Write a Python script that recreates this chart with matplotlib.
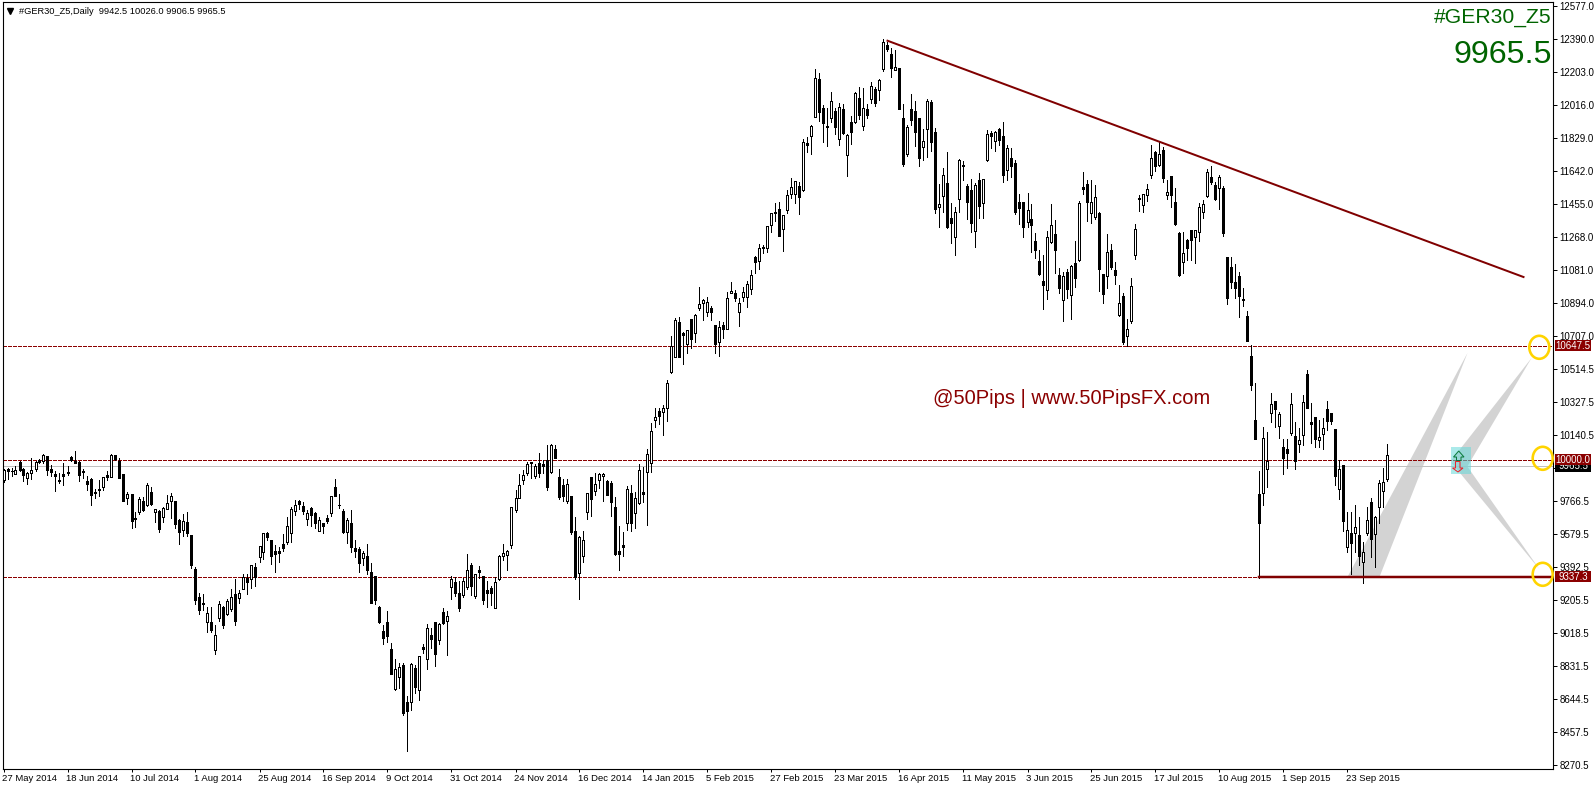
import matplotlib
matplotlib.use("Agg")
import matplotlib.pyplot as plt
from matplotlib.patches import Ellipse, Polygon, Rectangle
from matplotlib.transforms import ScaledTranslation

plt.rcParams['font.family'] = ['Liberation Sans', 'DejaVu Sans']

# daily candles
highs = [9949,9957,9957,9968,9993,9953,9934,10012,9997,10006,
10036,10023,9970,9938,9925,9982,9968,10021,10052,9993,
9949,9912,9898,9834,9885,9906,9936,10033,10027,10014,
9919,9817,9807,9707,9792,9789,9870,9845,9720,9717,
9732,9800,9811,9768,9664,9692,9703,9577,9391,9246,
9240,9164,9164,9062,9198,9172,9213,9266,9325,9263,
9352,9353,9404,9414,9510,9588,9594,9544,9516,9509,
9580,9679,9732,9772,9773,9762,9717,9732,9703,9679,
9645,9690,9796,9891,9807,9720,9669,9717,9544,9505,
9482,9524,9414,9342,9170,9064,9141,8960,8869,8850,
8846,8661,8850,8835,8888,8956,9070,9045,9083,9077,
9159,9142,9340,9338,9316,9329,9467,9414,9355,9399,
9342,9316,9285,9335,9459,9522,9489,9732,9830,9919,
9942,9991,9989,9978,10040,9998,10085,10091,10085,9949,
9892,9892,9798,9677,9567,9595,9811,9904,9928,9928,
9927,9887,9879,9788,9626,9592,9853,9857,9819,9976,
9961,10063,10208,10294,10294,10311,10452,10704,10804,10810,
10727,10738,10801,10827,10980,10912,10924,10872,10767,10791,
10782,10952,11009,10967,10918,10980,11018,11079,11158,11224,
11222,11328,11404,11457,11463,11391,11533,11599,11582,11576,
11822,11832,11900,12220,12197,12015,11996,12089,11996,12025,
12021,11849,11953,12087,12117,12110,12021,12146,12119,12161,
12390,12371,12337,12327,12225,12021,11902,12078,12038,11941,
11879,12049,12044,11885,11567,11658,11748,11459,11438,11707,
11699,11565,11593,11571,11627,11597,11873,11867,11870,11883,
11917,11786,11771,11701,11510,11463,11514,11451,11287,11192,
11164,11298,11453,11362,11088,11069,11086,11107,11243,11468,
11635,11589,11591,11561,11406,11056,11281,11224,11122,10992,
10946,10799,11031,11338,11503,11512,11567,11786,11752,11807,
11775,11589,11612,11544,11292,11294,11252,11305,11305,11457,
11476,11650,11669,11580,11618,11556,11153,11153,11111,11069,
10975,10846,10653,10435,9936,10186,10159,10379,10335,10271,
10118,10119,10379,10216,10180,10367,10509,10322,10244,10225,
10241,10335,10269,10176,9998,9972,9707,9707,9743,9679,
9533,9732,9785,9682,9887,9953,10089]

body_top = [9944,9949,9940,9942,9989,9947,9925,9946,9989,10002,
10029,10021,9947,9919,9885,9919,9934,10016,9993,9989,
9938,9881,9893,9819,9836,9902,9913,10029,10027,9997,
9919,9807,9805,9671,9781,9766,9859,9817,9720,9711,
9730,9754,9794,9766,9660,9652,9647,9575,9382,9221,
9189,9132,9081,9005,9181,9166,9198,9221,9238,9244,
9334,9329,9402,9391,9510,9586,9584,9544,9482,9482,
9522,9624,9720,9743,9766,9737,9698,9728,9702,9658,
9641,9669,9794,9845,9747,9711,9660,9641,9499,9493,
9471,9455,9363,9340,9166,9028,9079,8926,8812,8823,
8835,8625,8845,8818,8886,8939,9045,9005,9079,9068,
9136,9113,9323,9308,9244,9314,9374,9403,9352,9374,
9340,9263,9272,9306,9455,9471,9482,9732,9783,9857,
9913,9976,9987,9966,9983,9978,9998,10085,10063,9902,
9857,9862,9794,9595,9563,9544,9811,9902,9862,9919,
9923,9881,9870,9732,9482,9516,9834,9811,9783,9942,
9817,10032,10163,10242,10277,10297,10435,10645,10795,10782,
10719,10736,10799,10825,10888,10907,10899,10861,10765,10753,
10765,10918,10961,10948,10893,10956,10997,11048,11150,11202,
11207,11326,11400,11408,11423,11389,11502,11548,11582,11555,
11803,11798,11898,12167,12161,11996,11896,12036,11979,12002,
11991,11843,11917,12081,12053,11996,11993,12121,12104,12159,
12371,12356,12305,12229,12223,11940,11888,11991,11981,11940,
11809,12036,12032,11860,11453,11616,11570,11372,11406,11705,
11675,11555,11533,11559,11587,11593,11849,11854,11862,11877,
11837,11771,11714,11684,11463,11463,11417,11366,11243,11128,
11018,11264,11332,11281,11048,11043,11065,11101,11116,11459,
11549,11565,11466,11491,11402,11054,11179,11190,11077,10889,
10929,10746,10990,11313,11487,11512,11537,11712,11746,11735,
11758,11519,11610,11463,11290,11173,11247,11303,11303,11438,
11451,11633,11607,11559,11605,11542,11153,11094,11011,11043,
10912,10816,10589,10227,9805,10123,9993,10316,10333,10261,
10072,10061,10316,10135,10112,10328,10487,10214,10242,10129,
10184,10290,10267,10176,9947,9970,9601,9584,9618,9575,
9476,9658,9760,9677,9868,9875,10031]

body_bot = [9887,9940,9936,9923,9944,9915,9900,9929,9949,9991,
9997,9944,9934,9912,9879,9912,9929,10002,9985,9917,
9934,9866,9804,9811,9832,9847,9904,9906,10006,9900,
9770,9787,9656,9664,9707,9715,9745,9753,9703,9609,
9679,9724,9770,9639,9594,9605,9588,9406,9206,9151,
9185,9083,9037,8922,9104,9066,9128,9155,9087,9219,
9270,9310,9327,9336,9452,9480,9565,9457,9469,9474,
9501,9535,9588,9713,9751,9709,9667,9690,9645,9599,
9628,9654,9702,9796,9743,9592,9594,9509,9484,9418,
9444,9376,9191,9206,9083,8990,9001,8788,8702,8767,
8566,8578,8629,8714,8693,8930,8873,8985,8901,8981,
9077,9089,9282,9248,9162,9236,9282,9287,9231,9367,
9208,9248,9248,9159,9323,9457,9459,9518,9718,9787,
9889,9928,9981,9911,9928,9968,9847,9930,10014,9792,
9798,9769,9593,9334,9361,9454,9707,9781,9826,9885,
9911,9804,9764,9467,9469,9508,9641,9645,9698,9758,
9809,9930,9981,10229,10252,10271,10297,10502,10587,10587,
10708,10661,10689,10719,10865,10890,10838,10842,10661,10672,
10746,10742,10950,10918,10842,10927,10927,10973,11126,11128,
11203,11202,11332,11404,11274,11313,11421,11508,11508,11495,
11531,11790,11841,11949,11977,11915,11892,11940,11892,11820,
11856,11733,11864,11921,11958,11898,11958,12051,12028,12098,
12220,12335,12223,12214,11994,11680,11735,11930,11864,11716,
11779,11877,11807,11427,11438,11500,11323,11347,11264,11480,
11671,11466,11347,11298,11444,11461,11703,11841,11813,11815,
11620,11644,11671,11408,11433,11325,11353,11336,11194,11058,
10995,10967,11238,11194,10978,10906,10972,10935,11035,11133,
11538,11466,11404,11381,11082,10941,11047,11098,11050,10821,
10672,10706,10791,11166,11480,11450,11506,11620,11671,11676,
11602,11506,11506,11340,11050,11126,11203,11251,11268,11292,
11406,11501,11578,11482,11542,11291,10922,11011,10979,10933,
10909,10678,10428,10121,9644,9815,9951,10269,10292,10195,
10012,10042,10154,9997,10093,10144,10297,10207,10121,10112,
10150,10224,10222,9911,9834,9656,9505,9531,9588,9454,
9420,9588,9554,9580,9735,9826,9894]

lows = [9876,9893,9912,9921,9940,9883,9866,9893,9940,9982,
9985,9915,9912,9825,9868,9860,9913,9995,9985,9883,
9896,9830,9745,9787,9796,9830,9889,9906,10000,9900,
9770,9749,9616,9622,9692,9709,9741,9743,9650,9594,
9649,9720,9673,9616,9524,9571,9571,9389,9183,9128,
9149,9024,9024,8901,9087,9047,9119,9145,9066,9191,
9270,9240,9274,9285,9421,9438,9544,9410,9365,9421,
9482,9526,9537,9690,9720,9696,9631,9626,9616,9599,
9588,9645,9685,9796,9730,9588,9527,9480,9452,9365,
9402,9353,9191,9183,9077,8958,8967,8788,8697,8704,
8553,8351,8582,8680,8638,8907,8816,8932,8831,8956,
9072,8894,9212,9229,9145,9225,9266,9234,9219,9329,
9183,9166,9178,9159,9319,9433,9376,9503,9707,9783,
9864,9915,9898,9900,9906,9928,9832,9928,10014,9781,
9769,9754,9580,9327,9211,9421,9667,9682,9802,9841,
9769,9800,9684,9461,9378,9457,9603,9599,9616,9752,
9764,9631,9934,10188,10207,10142,10224,10496,10587,10587,
10547,10606,10638,10672,10854,10795,10818,10795,10608,10591,
10691,10742,10946,10905,10761,10903,10869,10944,11063,11084,
11173,11183,11294,11359,11274,11186,11404,11489,11457,11398,
11529,11748,11737,11949,11924,11807,11784,11921,11852,11790,
11851,11614,11796,11915,11936,11875,11943,12028,12011,12045,
12210,12324,12176,12212,11994,11671,11726,11904,11783,11669,
11703,11722,11752,11404,11323,11410,11317,11232,11164,11408,
11589,11366,11296,11209,11376,11374,11697,11771,11754,11790,
11578,11589,11605,11397,11340,11268,11321,11181,11147,11050,
10859,10912,11230,11063,10950,10789,10918,10800,10982,11131,
11508,11357,11345,11368,10959,10893,10975,11084,10999,10820,
10659,10647,10780,11143,11414,11408,11472,11602,11642,11669,
11580,11481,11438,11332,11047,11063,11135,11135,11116,11245,
11374,11495,11569,11476,11425,11274,10888,10979,10918,10814,
10875,10678,10399,10121,9330,9747,9849,10216,10186,10127,
9923,9955,10140,9951,10048,10085,10297,10099,10076,10076,
10063,10171,10205,9858,9781,9599,9480,9353,9480,9404,
9300,9575,9448,9391,9644,9735,9883]

# U = white candle, D = black candle
direction = ("UDDUDDUUUD" "UDDDDDDDDD" "DDDDDUDUDD" "DUDDUDUDUD" "UUUDDUDDDD"
             "DUDUUDUUDU" "UDUDUUDDDD" "DUUUDDUDDU" "DDUDDDUDDD" "UDDDDDDDUU"
             "DDUDUDUDDU" "DUUDDUUDUD" "DDDUUUUUUU" "UUDUDDDUDD" "DUDDUUUDUU"
             "UDDDDDUDUU" "DUUUDUUUUD" "DUDUUUUDDU" "DUUDUUUUDU" "UUUUDUUUUD"
             "UDUUDDDUDU" "DUDUDUDUDU" "UDDUDDUDDD" "UUDDUUDDUU" "DDDUDUUDUD"
             "DUDDDDUDDD" "DUUDDUDUDU" "DDUUDDUDDU" "DUUUDUUUDU" "DUDDDUDDUU"
             "UUDDUDDDDD" "DDDDDUUUDU" "DDUDUUDDDU" "UDDDUDUDUD" "UUDUUUU")

y_ticks = [12577.0,12390.0,12203.0,12016.0,11829.0,11642.0,11455.0,11268.0,11081.0,
           10894.0,10707.0,10514.5,10327.5,10140.5,9953.5,9766.5,9579.5,9392.5,
           9205.5,9018.5,8831.5,8644.5,8457.5,8270.5]
date_labels = ["27 May 2014","18 Jun 2014","10 Jul 2014","1 Aug 2014","25 Aug 2014",
               "16 Sep 2014","9 Oct 2014","31 Oct 2014","24 Nov 2014","16 Dec 2014",
               "14 Jan 2015","5 Feb 2015","27 Feb 2015","23 Mar 2015","16 Apr 2015",
               "11 May 2015","3 Jun 2015","25 Jun 2015","17 Jul 2015","10 Aug 2015",
               "1 Sep 2015","23 Sep 2015"]

levels = [10647.5, 10000.0, 9337.3]
last_price = 9965.5
trend_x = [221, 380]
trend_y = [12380, 11039]
support_x = [314, 387.5]
wedge1_x, wedge1_y = [336, 344, 366], [9337, 9337, 10608]
wedge2_x, wedge2_y = [362, 365, 382], [10000, 9927, 10579]
wedge3_x, wedge3_y = [362, 365, 384], [9985, 9995, 9380]

W, H = 1596, 786
RED = '#8B0000'
GREEN = '#006400'
px = 0.72  # one pixel in points

fig = plt.figure(figsize=(W/100, H/100), dpi=100, facecolor='white')
L, R, T, B = 2.5, 1553.5, 2.0, 768.5
ax = fig.add_axes([L/W, 1-B/H, (R-L)/W, (B-T)/H])
ax.set_xlim((L-3.5)/4, (R-3.5)/4)
ax.set_ylim(12577-(B-6)*5.675, 12577-(T-6)*5.675)

# grey projection wedges go behind everything
for wx, wy in [(wedge1_x, wedge1_y), (wedge2_x, wedge2_y), (wedge3_x, wedge3_y)]:
    ax.fill(wx, wy, color='#D3D3D3', lw=0, zorder=1)

ax.axhline(last_price, color='#C0C0C0', lw=px, zorder=2)
for lev in levels:
    ax.axhline(lev, color=RED, lw=px, ls=(0, (4, 2)), zorder=2, antialiased=False)

# candles
xs = list(range(len(highs)))
ax.vlines(xs, lows, highs, color='black', lw=px, zorder=3, antialiased=False)
fills = ['white' if d == 'U' else 'black' for d in direction]
ax.bar(xs, [t-b for t, b in zip(body_top, body_bot)], bottom=body_bot, width=0.5,
       color=fills, edgecolor='black', lw=px, zorder=4, antialiased=False)

ax.plot(trend_x, trend_y, color='#800000', lw=2*px, zorder=5)
ax.plot(support_x, [levels[2], levels[2]], color='#800000', lw=2.5*px, zorder=5)

ax.yaxis.tick_right()
ax.set_yticks(y_ticks)
ax.set_yticklabels(['%.1f' % v for v in y_ticks], fontsize=7)
ax.set_xticks(range(0, 16*len(date_labels), 16))
ax.set_xticklabels(date_labels, fontsize=6.8)
ax.tick_params(axis='y', direction='out', length=3, width=px, pad=1.5)
ax.tick_params(axis='x', direction='out', length=2.5, width=px, pad=1.2)
shift = ScaledTranslation(-1.5/100, 0, fig.dpi_scale_trans)
for lab in ax.get_xticklabels():
    lab.set_ha('left')
    lab.set_transform(lab.get_transform() + shift)
for s in ax.spines.values():
    s.set_linewidth(1.1*px)

# overlay in picture pixels for the annotations around the chart
ov = fig.add_axes([0, 0, 1, 1])
ov.set_xlim(0, W)
ov.set_ylim(H, 0)
ov.axis('off')

ov.plot([10], [10.5], marker='v', ms=4, color='black', zorder=3)
ov.text(19, 11, "#GER30_Z5,Daily  9942.5 10026.0 9906.5 9965.5", fontsize=6.7,
        va='center', ha='left', color='black')
ov.text(1551, 22.5, "#GER30_Z5", fontsize=15.2, color=GREEN, ha='right', va='baseline')
ov.text(1552, 63, "9965.5", fontsize=23.2, color=GREEN, ha='right', va='baseline')
ov.text(933, 399, "@50Pips | www.50PipsFX.com", fontsize=14.5, color=RED, ha='left', va='center')

# signal box with arrows
ov.add_patch(Rectangle((1451, 447), 20, 27, color='#66DADA', alpha=0.55, lw=0))
ov.add_patch(Polygon([(1458.7, 451), (1464, 457), (1461, 457), (1461, 460.5), (1456.5, 460.5),
                      (1456.5, 457), (1453.5, 457)], fill=False, ec='#0A7A3A', lw=px))
ov.add_patch(Polygon([(1458, 472), (1463, 468), (1460, 468), (1460, 461.5), (1455.5, 461.5),
                      (1455.5, 468), (1452.5, 468)], fill=False, ec='#E8222A', lw=px))

# yellow circles on the levels
for cx, cy in [(1539.3, 347.3), (1542.7, 458.3), (1542.7, 574.3)]:
    ov.add_patch(Ellipse((cx, cy), 20, 23, fill=False, ec='#FFD400', lw=2.6*px, zorder=3))

# price labels on the scale
ov.add_patch(Rectangle((1555, 460.5), 36, 11, color='black', lw=0, zorder=4))
ov.text(1573, 466, '%.1f' % last_price, color='white', fontsize=7, ha='center', va='center', zorder=5)
for lev, yc in zip(levels, [345.7, 459.7, 576.5]):
    ov.add_patch(Rectangle((1555, yc-5.3), 36, 10.6, color=RED, lw=0, zorder=6))
    ov.text(1573, yc, '%.1f' % lev, color='white', fontsize=7, ha='center', va='center', zorder=7)

fig.savefig('out.png', dpi=100, facecolor='white')
